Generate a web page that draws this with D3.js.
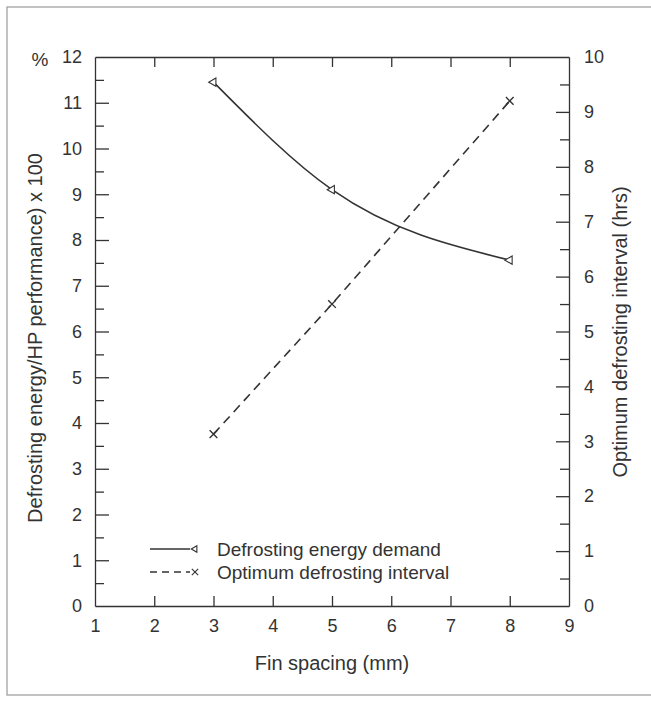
<!DOCTYPE html>
<html>
<head>
<meta charset="utf-8">
<script src="https://cdn.jsdelivr.net/npm/d3@7"></script>
<style>
body{margin:0;background:#fff;}
svg{display:block;font-family:"Liberation Sans",Arial,sans-serif;}
.axis path,.axis line{stroke:#333;stroke-width:1.3;}
.axis text{font-size:18px;fill:#333;font-family:"Liberation Sans",Arial,sans-serif;}
</style>
</head>
<body>
<svg id="myGraph" width="651" height="701"></svg>
<script>
// data
var finSpacing = [3, 5, 8];
var energyDemand = [11.45, 9.1, 7.56];     // % (left axis)
var intervalFin = [3, 5, 8];
var intervalHrs = [3.13, 5.5, 9.2];        // hrs (right axis)

var xTicks = [1, 2, 3, 4, 5, 6, 7, 8, 9];
var leftTicks = [0, 1, 2, 3, 4, 5, 6, 7, 8, 9, 10, 11, 12];
var rightTicks = [0, 1, 2, 3, 4, 5, 6, 7, 8, 9, 10];

var legendLabels = ["Defrosting energy demand", "Optimum defrosting interval"];

var pLeft = 95, pRight = 569, pTop = 57, pBottom = 606;
var ink = "#333";

var svg = d3.select("#myGraph");

// frame around the figure
svg.append("rect")
	.attr("x", 7).attr("y", 7)
	.attr("width", 700).attr("height", 688)
	.attr("fill", "none")
	.attr("stroke", "#999")
	.attr("stroke-width", 1.2);

var xScale = d3.scaleLinear().domain([1, 9]).range([pLeft, pRight]);
var yScale = d3.scaleLinear().domain([0, 12]).range([pBottom, pTop]);
var yRight = d3.scaleLinear().domain([0, 10]).range([pBottom, pTop]);

// minor ticks halfway between the labelled ones
var leftMinor = leftTicks.slice(0, -1).map(function(d){ return d + 0.5; });
var rightMinor = rightTicks.slice(0, -1).map(function(d){ return d + 0.5; });

// bottom
var bx = svg.append("g").attr("class", "axis")
	.attr("transform", "translate(0," + pBottom + ")")
	.call(d3.axisBottom(xScale).tickValues(xTicks).tickSize(-10).tickSizeOuter(0).tickPadding(13).tickFormat(d3.format("d")));
bx.selectAll(".tick line").filter(function(d){ return d === 1 || d === 9; }).remove();

// top
svg.append("g").attr("class", "axis")
	.attr("transform", "translate(0," + pTop + ")")
	.call(d3.axisTop(xScale).tickValues(xTicks.slice(1, -1)).tickSize(-10).tickSizeOuter(0).tickFormat(""));

// left
var ly = svg.append("g").attr("class", "axis")
	.attr("transform", "translate(" + pLeft + ",0)")
	.call(d3.axisLeft(yScale).tickValues(leftTicks).tickSize(-14).tickSizeOuter(0).tickPadding(13).tickFormat(d3.format("d")));
ly.selectAll(".tick line").filter(function(d){ return d === 0 || d === 12; }).remove();
svg.append("g").attr("class", "axis")
	.attr("transform", "translate(" + pLeft + ",0)")
	.call(d3.axisLeft(yScale).tickValues(leftMinor).tickSize(-9).tickSizeOuter(0).tickFormat(""))
	.select(".domain").remove();

// right
var ry = svg.append("g").attr("class", "axis")
	.attr("transform", "translate(" + pRight + ",0)")
	.call(d3.axisRight(yRight).tickValues(rightTicks).tickSize(-13).tickSizeOuter(0).tickPadding(15).tickFormat(d3.format("d")));
ry.selectAll(".tick line").filter(function(d){ return d === 0 || d === 10; }).remove();
svg.append("g").attr("class", "axis")
	.attr("transform", "translate(" + pRight + ",0)")
	.call(d3.axisRight(yRight).tickValues(rightMinor).tickSize(-9).tickSizeOuter(0).tickFormat(""))
	.select(".domain").remove();

// axis titles
svg.append("text")
	.attr("x", 332).attr("y", 670)
	.attr("text-anchor", "middle")
	.attr("font-size", 20).attr("fill", ink)
	.text("Fin spacing (mm)");

svg.append("text")
	.attr("transform", "translate(42,338) rotate(-90)")
	.attr("text-anchor", "middle")
	.attr("font-size", 20).attr("fill", ink)
	.text("Defrosting energy/HP performance) x 100");

svg.append("text")
	.attr("transform", "translate(627,332) rotate(-90)")
	.attr("text-anchor", "middle")
	.attr("font-size", 20).attr("fill", ink)
	.text("Optimum defrosting interval (hrs)");

svg.append("text")
	.attr("x", 40).attr("y", 66)
	.attr("text-anchor", "middle")
	.attr("font-size", 19).attr("fill", ink)
	.text("%");

// energy demand curve
var energyLine = d3.line()
	.x(function(d, i){ return xScale(finSpacing[i]); })
	.y(function(d){ return yScale(d); })
	.curve(d3.curveMonotoneX);

svg.append("path")
	.attr("d", energyLine(energyDemand))
	.attr("fill", "none")
	.attr("stroke", ink)
	.attr("stroke-width", 1.6);

// interval line
var intervalLine = d3.line()
	.x(function(d, i){ return xScale(intervalFin[i]); })
	.y(function(d){ return yRight(d); });

svg.append("path")
	.attr("d", intervalLine(intervalHrs))
	.attr("fill", "none")
	.attr("stroke", ink)
	.attr("stroke-width", 1.6)
	.attr("stroke-dasharray", "9,6");

// markers
var tri = d3.symbol().type(d3.symbolTriangle).size(30);
svg.selectAll(".tri")
	.data(energyDemand)
	.enter()
	.append("path")
	.attr("class", "tri")
	.attr("d", tri)
	.attr("transform", function(d, i){
		return "translate(" + xScale(finSpacing[i]) + "," + yScale(d) + ") rotate(-90)";
	})
	.attr("fill", "#fff")
	.attr("stroke", ink)
	.attr("stroke-width", 1.1);

var cross = d3.symbol().type(d3.symbolX).size(40);
svg.selectAll(".crs")
	.data(intervalHrs)
	.enter()
	.append("path")
	.attr("class", "crs")
	.attr("d", cross)
	.attr("transform", function(d, i){
		return "translate(" + xScale(intervalFin[i]) + "," + yRight(d) + ")";
	})
	.attr("fill", "none")
	.attr("stroke", ink)
	.attr("stroke-width", 1.4);

// legend
var legend = svg.append("g").attr("transform", "translate(150,549)");
legendLabels.forEach(function(label, i){
	var g = legend.append("g").attr("transform", "translate(0," + (i * 23) + ")");
	g.append("line")
		.attr("x1", 0).attr("x2", 40)
		.attr("y1", 0).attr("y2", 0)
		.attr("stroke", ink)
		.attr("stroke-width", 1.3)
		.attr("stroke-dasharray", i === 0 ? null : "7,5");
	g.append("path")
		.attr("d", i === 0 ? d3.symbol().type(d3.symbolTriangle).size(18)() : d3.symbol().type(d3.symbolX).size(28)())
		.attr("transform", "translate(45,0)" + (i === 0 ? " rotate(-90)" : ""))
		.attr("fill", i === 0 ? "#fff" : "none")
		.attr("stroke", ink)
		.attr("stroke-width", 1.1);
	g.append("text")
		.attr("x", 67).attr("y", 7)
		.attr("font-size", 19).attr("fill", ink)
		.text(label);
});
</script>
</body>
</html>
